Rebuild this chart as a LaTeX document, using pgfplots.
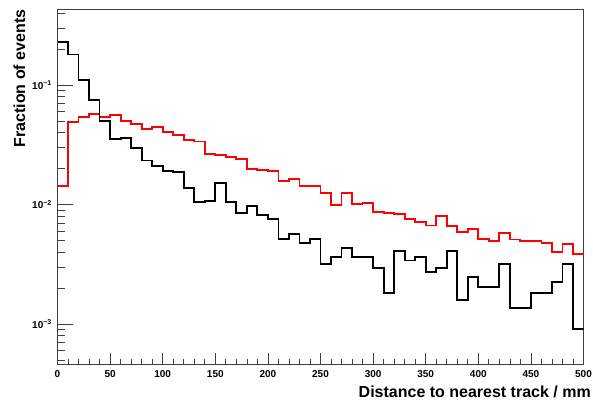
\documentclass[border=0pt]{standalone}
\usepackage{fontspec}
\setmainfont{Liberation Sans}
\usepackage{pgfplots}
\pgfplotsset{compat=1.18}
\begin{document}
\begin{tikzpicture}
\useasboundingbox (-57.5bp,-37bp) rectangle (535.5bp,364bp);
\begin{axis}[
  at={(0,0)}, anchor=south west,
  scale only axis, width=526bp, height=354.5bp,
  xmin=0, xmax=500, ymode=log, ymin=4.62e-4, ymax=0.4285,
  axis line style={black!75, line width=0.7bp},
  xtick={0,50,...,500}, minor x tick num=4,
  xtick pos=bottom, tick align=inside,
  major tick length=10.6bp, minor tick length=5.3bp,
  every tick/.style={black!75, line width=0.7bp},
  ymajorticks=false, yminorticks=false,
  /pgf/number format/assume math mode=true,
  xticklabel style={font=\bfseries\fontsize{10bp}{12bp}\selectfont, inner sep=0pt, anchor=north, yshift=-6bp},
  xlabel={\bfseries Distance to nearest track / mm},
  xlabel style={font=\fontsize{16bp}{19bp}\selectfont, at={(rel axis cs:1,0)}, anchor=base east, inner sep=0pt, xshift=7.5bp, yshift=-33.7bp},
]
\addplot[const plot mark left, red, line width=1.8bp] coordinates {
(0,0.01437) (10,0.0493) (20,0.0537) (30,0.0572) (40,0.0537) (50,0.0561) (60,0.0500) (70,0.0472) (80,0.0425) (90,0.0445)
(100,0.0403) (110,0.0382) (120,0.0347) (130,0.0336) (140,0.0265) (150,0.0260) (160,0.0248) (170,0.0239) (180,0.0197) (190,0.0194)
(200,0.0192) (210,0.0158) (220,0.0163) (230,0.01436) (240,0.01436) (250,0.01242) (260,0.00991) (270,0.0124) (280,0.0101) (290,0.01035)
(300,0.00871) (310,0.00854) (320,0.00828) (330,0.00756) (340,0.00710) (350,0.00667) (360,0.00805) (370,0.00661) (380,0.00592) (390,0.00623)
(400,0.00514) (410,0.00498) (420,0.00574) (430,0.0051) (440,0.00498) (450,0.00498) (460,0.00473) (470,0.00403) (480,0.00467) (490,0.00383)
(500,0.00383)};
\addplot[const plot mark left, black, line width=1.8bp] coordinates {
(0,0.229) (10,0.180) (20,0.110) (30,0.0749) (40,0.0502) (50,0.0354) (60,0.0358) (70,0.0297) (80,0.0233) (90,0.0211)
(100,0.0192) (110,0.0187) (120,0.01365) (130,0.01055) (140,0.0107) (150,0.01524) (160,0.01055) (170,0.00843) (180,0.00970) (190,0.00817)
(200,0.00756) (210,0.00514) (220,0.00563) (230,0.00478) (240,0.00514) (250,0.00316) (260,0.00362) (270,0.00430) (280,0.00362) (290,0.00362)
(300,0.00292) (310,0.00181) (320,0.00408) (330,0.00339) (340,0.00362) (350,0.00274) (360,0.00296) (370,0.00408) (380,0.00159) (390,0.00249)
(400,0.00203) (410,0.00203) (420,0.00316) (430,0.00135) (440,0.00135) (450,0.00181) (460,0.00181) (470,0.00226) (480,0.00316) (490,0.000903)
(500,0.000903)};
\end{axis}
\begin{axis}[
  at={(0,0)}, anchor=south west,
  scale only axis, width=526bp, height=354.5bp,
  xmin=0, xmax=500, ymode=log, ymin=4.62e-4, ymax=0.4285,
  hide x axis, axis y line*=left,
  axis line style={black!75, line width=0.7bp},
  tick align=inside,
  major tick length=15.8bp, minor tick length=7.9bp,
  every tick/.style={black!75, line width=0.7bp},
  ytick={0.001,0.01,0.1},
  yticklabels={{10\textsuperscript{−3}},{10\textsuperscript{−2}},{10\textsuperscript{−1}}},
  minor ytick={5e-4,6e-4,7e-4,8e-4,9e-4,2e-3,3e-3,4e-3,5e-3,6e-3,7e-3,8e-3,9e-3,2e-2,3e-2,4e-2,5e-2,6e-2,7e-2,8e-2,9e-2,0.2,0.3,0.4},
  yticklabel style={font=\bfseries\fontsize{10bp}{12bp}\selectfont, inner sep=0pt, anchor=east, xshift=-5.5bp},
]
\addplot[draw=none] coordinates {(0,0.01) (500,0.01)};
\end{axis}
\node[rotate=90, anchor=base east, inner sep=0pt, font=\fontsize{16bp}{19bp}\selectfont\bfseries] at (-32.5bp,354.5bp) {Fraction of events};
\end{tikzpicture}
\end{document}
